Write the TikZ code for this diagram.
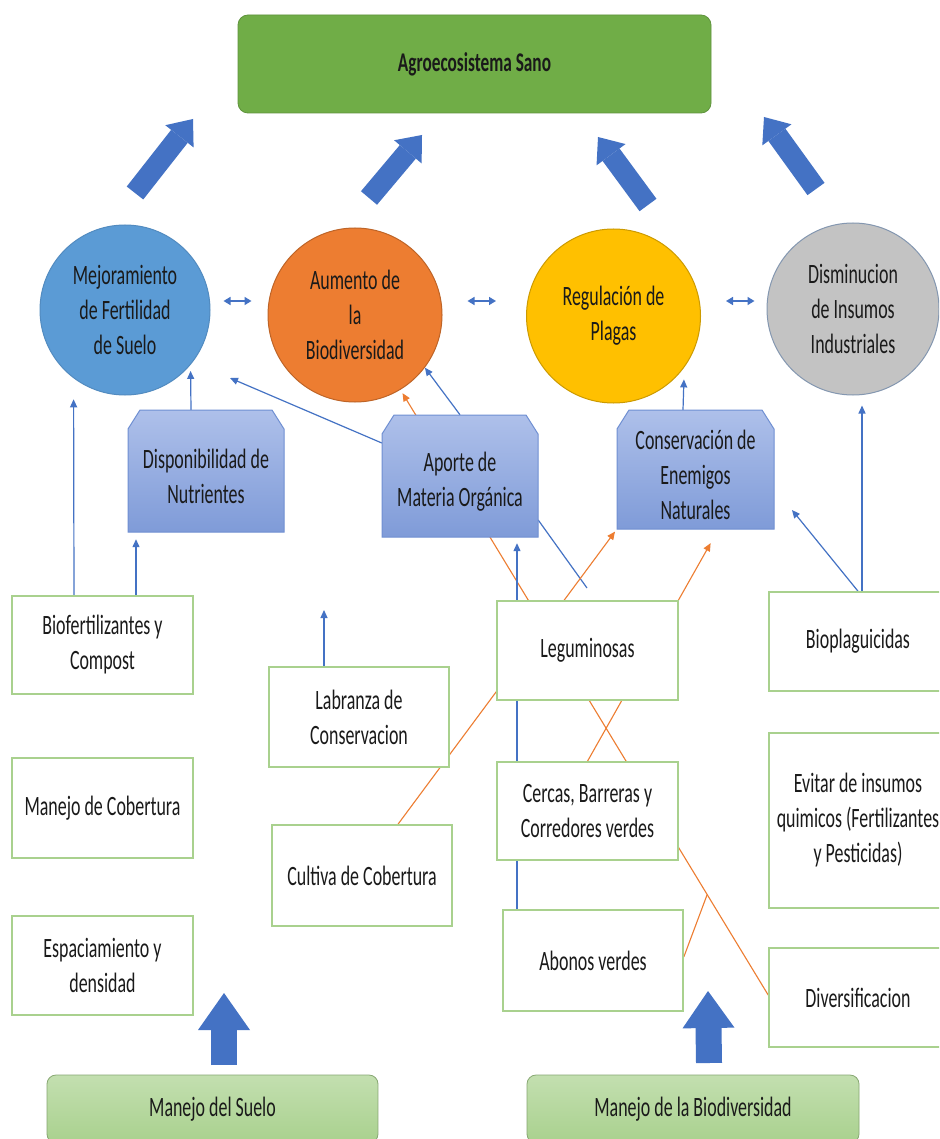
\documentclass[tikz,border=0pt]{standalone}
\usepackage{fontspec}
\setmainfont{Carlito}[FakeStretch=0.64]
\usetikzlibrary{arrows.meta}
\pgfdeclarelayer{paper}
\pgfdeclarelayer{links}
\pgfsetlayers{paper,links,main}

\definecolor{linkblue}{HTML}{4472C4}
\definecolor{linkorange}{HTML}{ED7D31}
\definecolor{fertblue}{HTML}{5B9BD5}
\definecolor{bioorange}{HTML}{ED7D31}
\definecolor{plagyellow}{HTML}{FFC000}
\definecolor{insgray}{HTML}{C3C3C3}
\definecolor{insedge}{HTML}{8497B0}
\definecolor{leafgreen}{HTML}{70AD47}
\definecolor{palegreen}{HTML}{A9D18E}
\definecolor{snipTop}{HTML}{AEC0EA}
\definecolor{snipBot}{HTML}{7F9BD8}
\definecolor{snipEdge}{HTML}{6F8FD2}
\definecolor{ink}{HTML}{1A1A1A}

% strut that lowers the text block of the process boxes a little
\newcommand\droptext{\rule{0pt}{30pt}}

\tikzset{
  base/.style={text=ink, font=\fontsize{28}{35}\selectfont, align=center, inner sep=0pt},
  goal/.style={base, circle, line width=1pt},
  item/.style={base, rectangle, draw=palegreen, line width=1.6pt, fill=white},
  snipnode/.style={base, rectangle},
  snipshade/.style={top color=snipTop, bottom color=snipBot, draw=snipEdge, line width=1pt},
  practice/.style={base, rectangle, rounded corners=9pt, top color=palegreen!70!white,
    bottom color=palegreen, draw=palegreen!80!black, line width=0.8pt},
  bl/.style={draw=linkblue, line width=1.2pt, -{Triangle[width=7pt,length=8pt]}},
  blline/.style={draw=linkblue, line width=1.2pt},
  orr/.style={draw=linkorange, line width=1.1pt, -{Triangle[width=7pt,length=8pt]}},
  orline/.style={draw=linkorange, line width=1.1pt},
  dbl/.style={draw=linkblue, line width=1.5pt,
    {Triangle[width=8pt,length=7pt]}-{Triangle[width=8pt,length=7pt]}},
  fatarrow/.style={draw=linkblue, line width=21pt,
    -{Triangle[width=36pt,length=22pt,line width=0pt]}},
  uparrow/.style={draw=linkblue, line width=26pt,
    -{Triangle[width=52pt,length=37pt,line width=0pt]}},
}

\begin{document}
\begin{tikzpicture}[x=1pt, y=-1pt]
  \useasboundingbox (0,0) rectangle (939,1139);
  \begin{pgfonlayer}{paper}
    \fill[white] (0,0) rectangle (939,1139);
  \end{pgfonlayer}
  \clip (0,0) rectangle (939,1139);

  % goal
  \node[base, rounded corners=10pt, fill=leafgreen, draw=leafgreen!85!black, line width=0.8pt,
        minimum width=473pt, minimum height=98pt,
        font=\bfseries\fontsize{27}{32}\selectfont] (top) at (474.5,64) {Agroecosistema Sano};

  % four outcomes
  \node[goal, fill=fertblue, draw=fertblue!90!black, minimum size=170pt] (c1) at (125,310)
    {Mejoramiento\\de Fertilidad\\de Suelo};
  \node[goal, fill=bioorange, draw=bioorange!80!black, minimum size=174pt] (c2) at (355,315)
    {Aumento de\\la\\Biodiversidad};
  \node[goal, fill=plagyellow, draw=plagyellow!80!black, minimum size=174pt] (c3) at (613.5,316)
    {Regulación de\\Plagas};
  \node[goal, fill=insgray, draw=insedge, minimum size=172pt] (c4) at (853,309)
    {Disminucion\\de Insumos\\Industriales};

  % processes (snipped top corners)
  \path[snipshade] (140,410) -- (272,410) -- (284,429) -- (284,532) -- (128,532) -- (128,429) -- cycle;
  \node[snipnode, minimum width=156pt, minimum height=122pt] (disp) at (206,471)
    {\droptext Disponibilidad de\\Nutrientes};
  \path[snipshade] (394,415) -- (526,415) -- (538,434) -- (538,537) -- (382,537) -- (382,434) -- cycle;
  \node[snipnode, minimum width=156pt, minimum height=122pt] (apor) at (460,476)
    {\droptext Aporte de\\Materia Orgánica};
  \path[snipshade] (629,410) -- (762,410) -- (774,429) -- (774,529) -- (617,529) -- (617,429) -- cycle;
  \node[snipnode, minimum width=157pt, minimum height=119pt] (cons) at (695.5,469.5)
    {\droptext Conservación de\\Enemigos\\Naturales};

  % practices
  \node[item, minimum width=181pt, minimum height=98pt]  (bio) at (102.5,645) {Biofertilizantes y\\Compost};
  \node[item, minimum width=181pt, minimum height=100pt] (cob) at (102.5,808) {Manejo de Cobertura};
  \node[item, minimum width=181pt, minimum height=99pt]  (esp) at (102.5,965.5) {Espaciamiento y\\densidad};
  \node[item, minimum width=180pt, minimum height=100pt] (lab) at (359,717) {Labranza de\\Conservacion};
  \node[item, minimum width=180pt, minimum height=101pt] (cul) at (362,875.5) {Cultiva de Cobertura};
  \node[item, minimum width=181pt, minimum height=99pt]  (leg) at (587.5,650.5) {Leguminosas};
  \node[item, minimum width=181pt, minimum height=98pt]  (cer) at (587.5,811) {Cercas, Barreras y\\Corredores verdes};
  \node[item, minimum width=180pt, minimum height=101pt] (abo) at (593,960.5) {Abonos verdes};
  \node[item, minimum width=178pt, minimum height=99pt]  (bpl) at (858,641.5) {Bioplaguicidas};
  \node[item, minimum width=178pt, minimum height=175pt] (evi) at (858,820.5)
    {Evitar de insumos\\quimicos (Fertilizantes\\y Pesticidas)};
  \node[item, minimum width=178pt, minimum height=99pt]  (div) at (858,997.5) {Diversificacion};

  % management areas
  \node[practice, minimum width=331pt, minimum height=68pt] (ms) at (212.5,1109) {Manejo del Suelo};
  \node[practice, minimum width=332pt, minimum height=68pt] (mb) at (693,1109) {Manejo de la Biodiversidad};

  % free ends
  \coordinate (u1s) at (135,193);  \coordinate (u1e) at (193,119);
  \coordinate (u2s) at (369,198);  \coordinate (u2e) at (422,135);
  \coordinate (u3s) at (648,205);  \coordinate (u3e) at (598,137);
  \coordinate (u4s) at (816,189);  \coordinate (u4e) at (764,117);
  \coordinate (b1s) at (224,1065); \coordinate (b1e) at (224,993);
  \coordinate (b2s) at (709,1063); \coordinate (b2e) at (708,991);
  \coordinate (dtip) at (230,378);
  \coordinate (hend) at (587,588);
  \coordinate (jn)   at (707,895);
  \coordinate (mtip) at (792,510);
  \coordinate (otip) at (324,610);

  \begin{pgfonlayer}{links}
    % outcomes feed the goal
    \draw[fatarrow] (u1s) -- (u1e);
    \draw[fatarrow] (u2s) -- (u2e);
    \draw[fatarrow] (u3s) -- (u3e);
    \draw[fatarrow] (u4s) -- (u4e);
    % management areas push the practices
    \draw[uparrow] (b1s) -- (b1e);
    \draw[uparrow] (b2s) -- (b2e);

    % links between outcomes
    \draw[dbl, shorten <=13pt, shorten >=16pt] ([yshift=9pt]c1.east) -- ([yshift=14pt]c2.west);
    \draw[dbl, shorten <=25pt, shorten >=30pt] ([yshift=14pt]c2.east) -- ([yshift=15pt]c3.west);
    \draw[dbl, shorten <=25pt, shorten >=12pt] ([yshift=15pt]c3.east) -- ([yshift=8pt]c4.west);

    % soil side
    \draw[bl, shorten >=21pt] ([xshift=-28.5pt]bio.north) -- (c1.-127);
    \draw[bl, shorten >=7pt] ([xshift=33.5pt]bio.north) -- ([xshift=-70pt]disp.south);
    \draw[bl, shorten >=6pt] ([xshift=-15pt]disp.north) -- (c1.-40);
    \draw[bl] ([yshift=33pt]apor.west) -- (dtip);
    \draw[bl] ([xshift=-35pt]lab.north) -- (otip);

    % biodiversity side
    \draw[orr, shorten >=4pt] ([yshift=2.5pt]div.west) -- (c2);
    \draw[bl] (apor.north) -- (c2.-37);
    \draw[bl, shorten >=6pt] ([xshift=-76pt]abo.north) -- ([xshift=57pt]apor.south);
    \draw[blline] ([yshift=-44pt]apor.east) -- (hend);
    \draw[orr, shorten >=3pt] ([xshift=36pt]cul.north) -- (cons.south west);
    \draw[orr, shorten >=16pt] (cer.north) -- ([xshift=23pt]cons.south);
    \draw[orline] ([yshift=3.5pt]abo.east) -- (jn);
    \draw[bl, shorten >=12pt] ([xshift=-12.5pt]cons.north) -- (c3.-36.4);
    \draw[bl] (bpl.north) -- (mtip);
    \draw[bl, shorten >=10pt] ([xshift=4pt]bpl.north) -- ([xshift=9pt]c4.south);
  \end{pgfonlayer}
\end{tikzpicture}
\end{document}
